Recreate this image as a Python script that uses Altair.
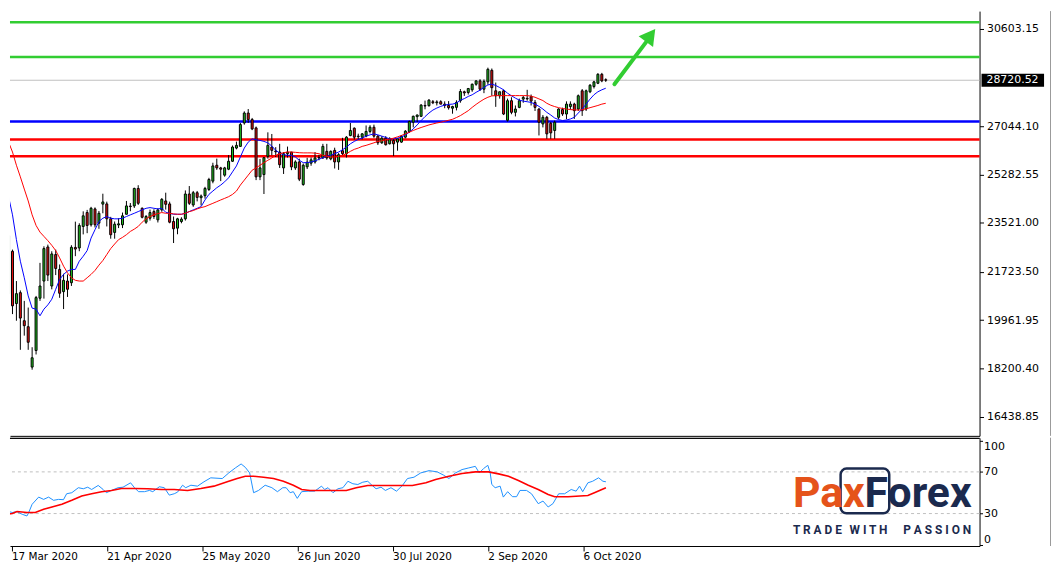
import altair as alt
import pandas as pd

# ---------------- data ----------------
tick_idx = [2, 26, 50, 74, 98, 122, 146]
tick_lbl = ["17 Mar 2020", "21 Apr 2020", "25 May 2020", "26 Jun 2020",
            "30 Jul 2020", "2 Sep 2020", "6 Oct 2020"]

opens = [20933, 22479, 20571, 20969, 19944, 19726, 18252, 18857, 20766, 21392,
         22635, 21211, 22359, 21816, 21005, 21392, 21331, 22620, 22600, 23384,
         23892, 23446, 24025, 23504, 24200, 24207, 23663, 23167, 23440, 23446,
         23830, 24130, 24134, 24772, 24047, 23540, 23685, 23928, 23627, 23989,
         24315, 24207, 23566, 23323, 23566, 23663, 24569, 24170, 24616, 24435,
         24507, 24736, 25039, 25619, 25522, 25257, 25474, 25764, 26246, 26307,
         27162, 27524, 27285, 26981, 25195, 25279, 25945, 26282, 26140, 26100,
         25522, 26040, 26100, 25522, 25740, 24917, 25560, 25695, 25740, 25884,
         25884, 26125, 25850, 26162, 25740, 26150, 26040, 26700, 26971, 26660,
         26644, 26681, 26852, 27006, 26681, 26438, 26608, 26402, 26523, 26463,
         26463, 26644, 26852, 27190, 27393, 27405, 27800, 27792, 27937, 27900,
         27937, 27850, 27800, 27700, 27731, 27974, 28300, 28274, 28372, 28575,
         28698, 28394, 28662, 29083, 28336, 28155, 28336, 27260, 27974, 27550,
         27730, 28032, 28060, 28120, 27912, 27670, 27126, 27368, 27150, 26887,
         27368, 27650, 27488, 27760, 27850, 27670, 28336, 27670, 28300, 28491,
         28611, 28937, 28740]
highs = [23142, 22540, 21392, 21050, 20668, 20425, 18977, 20849, 22056, 22660,
         22722, 22479, 22539, 21997, 21658, 21634, 22700, 23560, 23500, 23936,
         23989, 24100, 24080, 23950, 24580, 24290, 23735, 23566, 23685, 23892,
         24315, 24240, 24800, 24890, 24080, 23800, 24000, 24010, 24050, 24420,
         24617, 24290, 23747, 23700, 23720, 24700, 24860, 24680, 24680, 24550,
         24830, 25160, 25710, 25860, 25560, 25560, 25990, 26340, 26480, 27165,
         27585, 27670, 27345, 27030, 25850, 25920, 26820, 26760, 26280, 26400,
         26100, 26300, 26100, 25800, 25860, 25680, 25890, 25900, 26100, 26000,
         26400, 26400, 26160, 26260, 26060, 26620, 26680, 27160, 27000, 26770,
         26790, 27070, 27080, 27100, 26720, 26680, 26680, 26640, 26580, 26600,
         26720, 26900, 27250, 27430, 27470, 27850, 27978, 28030, 28000, 27990,
         27990, 27950, 27960, 27790, 27990, 28400, 28340, 28440, 28600, 28720,
         28760, 28750, 29180, 29150, 28636, 28300, 28380, 28050, 28100, 27800,
         28050, 28150, 28372, 28200, 28000, 27700, 27450, 27420, 27200, 27250,
         27700, 27720, 27950, 27950, 27900, 28200, 28400, 28380, 28580, 28700,
         28980, 28990, 28790]
lows = [20425, 20186, 19944, 18882, 19400, 18882, 18157, 18712, 20668, 20751,
        21392, 21090, 21610, 20780, 20370, 20812, 21213, 22300, 22480, 23095,
        23140, 23380, 23350, 23300, 23866, 23385, 22938, 22938, 23325, 23325,
        23820, 23940, 24060, 24170, 23680, 23480, 23600, 23660, 23530, 23920,
        24000, 23500, 22780, 23100, 23500, 23600, 24170, 24100, 24300, 24150,
        24400, 24680, 24960, 25450, 25040, 25200, 25440, 25740, 26200, 26300,
        27100, 27162, 26900, 25076, 25076, 24569, 25860, 25980, 25920, 25520,
        25300, 25900, 25440, 25450, 25040, 24870, 25480, 25600, 25680, 25800,
        25850, 25820, 25800, 25500, 25450, 25990, 25900, 26680, 26560, 26560,
        26560, 26640, 26780, 26620, 26360, 26400, 26340, 26380, 25956, 26150,
        26440, 26600, 26800, 27000, 27200, 27380, 27660, 27760, 27850, 27800,
        27840, 27700, 27650, 27500, 27620, 27900, 28150, 28200, 28300, 28520,
        28330, 28250, 28560, 28155, 27750, 28050, 27450, 27213, 27480, 27400,
        27700, 27900, 27974, 27800, 27600, 26706, 27000, 26583, 26583, 26583,
        27300, 27420, 27300, 27650, 27310, 27600, 27420, 27600, 28250, 28420,
        28580, 28650, 28660]
closes = [23047, 20487, 20933, 20041, 19763, 19158, 18592, 20788, 21211, 22577,
          21610, 22381, 21852, 20947, 21417, 21092, 22624, 22560, 23421, 23773,
          23421, 24047, 23446, 23866, 24280, 23663, 23083, 23468, 23480, 23773,
          24134, 24110, 24772, 24230, 23721, 23747, 23892, 23747, 23989, 24374,
          24193, 23540, 23300, 23663, 23650, 24569, 24230, 24616, 24445, 24496,
          24772, 25098, 25594, 25522, 25475, 25522, 25764, 26282, 26344, 27104,
          27524, 27285, 26945, 25195, 25522, 25895, 26344, 26162, 26110, 25638,
          26040, 26100, 25558, 25740, 25112, 25619, 25731, 25815, 25884, 25900,
          26307, 25884, 26125, 25740, 26003, 26040, 26644, 26887, 26644, 26681,
          26764, 26852, 27006, 26681, 26438, 26608, 26366, 26583, 26402, 26583,
          26681, 26862, 27213, 27405, 27452, 27814, 27780, 27995, 27900, 27930,
          27850, 27800, 27720, 27760, 27912, 28310, 28260, 28419, 28575, 28698,
          28394, 28680, 29119, 28450, 28155, 28300, 27488, 27974, 27550, 27670,
          27974, 28093, 28040, 27960, 27731, 27188, 27368, 26764, 26800, 27188,
          27670, 27490, 27850, 27850, 27612, 28155, 27612, 28336, 28539, 28662,
          28937, 28698, 28720.52]

ma_fast = [24471, 23808, 22903, 22117, 21512, 20849, 20404, 20367, 20125, 20367,
           20523, 20728, 21091, 21454, 21635, 21755, 21816, 21816, 22117, 22298,
           22504, 22961, 23265, 23566, 23685, 23747, 23685, 23663, 23663, 23685,
           23747, 23808, 23866, 23928, 23989, 24047, 24073, 24047, 24025, 24047,
           23903, 23866, 23830, 23830, 23830, 23866, 23928, 23989, 24047, 24109,
           24352, 24555, 24677, 24797, 24895, 25014, 25159, 25377, 25594, 25920,
           26246, 26463, 26583, 26547, 26525, 26489, 26438, 26318, 26163, 26065,
           26003, 25981, 25981, 25920, 25800, 25713, 25713, 25739, 25775, 25837,
           25895, 25945, 25981, 26040, 26101, 26184, 26282, 26402, 26489, 26561,
           26608, 26681, 26728, 26764, 26728, 26681, 26633, 26583, 26583, 26608,
           26644, 26728, 26825, 26945, 27090, 27249, 27394, 27524, 27633, 27706,
           27767, 27814, 27840, 27850, 27887, 27995, 28050, 28130, 28190, 28280,
           28360, 28460, 28550, 28580, 28530, 28455, 28372, 28249, 28155, 28068,
           27995, 27959, 27937, 27912, 27850, 27767, 27670, 27550, 27452, 27343,
           27285, 27249, 27271, 27307, 27368, 27524, 27670, 27850, 28032, 28191,
           28300, 28372, 28430]
ma_slow = [26463, 26101, 25619, 25195, 24750, 24315, 23808, 23421, 23178, 23022,
           22866, 22696, 22504, 22236, 21936, 21693, 21512, 21418, 21392, 21392,
           21512, 21635, 21780, 21972, 22142, 22359, 22577, 22744, 22903, 22986,
           23084, 23203, 23287, 23385, 23541, 23663, 23747, 23808, 23855, 23892,
           23866, 23866, 23844, 23830, 23830, 23866, 23928, 23964, 24025, 24073,
           24109, 24170, 24229, 24290, 24352, 24410, 24471, 24554, 24677, 24895,
           25076, 25257, 25438, 25522, 25619, 25713, 25800, 25884, 25981, 26040,
           26076, 26101, 26101, 26090, 26076, 26070, 26070, 26070, 26060, 26040,
           25981, 25945, 25920, 25920, 25945, 25981, 26040, 26126, 26199, 26246,
           26307, 26344, 26391, 26438, 26489, 26510, 26547, 26572, 26608, 26655,
           26706, 26764, 26825, 26887, 26945, 26996, 27043, 27090, 27126, 27162,
           27188, 27224, 27260, 27296, 27360, 27430, 27520, 27610, 27731, 27840,
           27940, 28030, 28100, 28150, 28160, 28160, 28160, 28160, 28160, 28160,
           28160, 28160, 28160, 28140, 28100, 28040, 27980, 27880, 27810, 27760,
           27720, 27690, 27670, 27650, 27640, 27635, 27640, 27680, 27720, 27760,
           27800, 27850, 27880]

rsi_idx = [-0.3, 0.1, 0.7, 1.35, 2.2, 3.4, 4.7, 5.9, 6.35, 7.2, 8.85, 10.1, 11.35,
           12.6, 13.85, 15.1, 15.9, 17.2, 18.85, 20.1, 21.2, 22.2, 23.85, 25.1, 25.9,
           27.2, 28.85, 30.1, 32.0, 33.0, 34.0, 35.5, 36.75, 37.6, 39.25, 40.5, 41.75,
           43.0, 43.85, 45.1, 45.9, 47.2, 48.85, 50.5, 52.2, 55.1, 56.75, 58.4, 59.85,
           60.9, 62.0, 63.0, 64.25, 65.9, 67.6, 69.0, 70.35, 71.2, 72.2, 73.0, 74.0,
           75.1, 76.75, 78.4, 80.1, 80.9, 81.75, 83.0, 84.25, 85.5, 86.75, 88.0, 89.25,
           90.5, 91.75, 92.6, 93.85, 95.1, 96.2, 97.6, 99.0, 100.5, 101.75, 103.4,
           105.1, 107.2, 109.25, 110.9, 112.2, 113.85, 115.5, 117.2, 118.85, 119.85,
           120.9, 122.0, 122.6, 123.0, 123.85, 125.1, 125.9, 127.0, 128.2, 129.25,
           130.1, 131.75, 133.0, 134.7, 135.9, 137.2, 138.4, 139.85, 141.35, 143.0,
           144.25, 145.1, 145.9, 147.2, 148.4, 149.9, 151.0, 151.75]
rsi_val = [34.1, 35.7, 30.0, 31.9, 31.0, 31.9, 29.3, 27.7, 31.0, 38.9, 45.8, 43.6,
           45.8, 42.7, 43.6, 43.3, 49.0, 50.0, 54.8, 53.8, 55.3, 53.1, 57.0, 53.1,
           50.0, 52.2, 54.8, 55.3, 59.5, 54.8, 51.0, 51.0, 52.2, 51.0, 55.7, 54.8,
           47.7, 49.0, 50.6, 57.2, 54.8, 57.2, 56.3, 60.5, 64.3, 63.6, 69.0, 73.8,
           77.6, 74.4, 69.0, 50.0, 52.2, 57.2, 54.8, 51.0, 54.8, 54.8, 50.0, 51.0,
           44.6, 51.0, 51.5, 51.5, 56.3, 53.1, 54.8, 50.0, 53.8, 54.8, 61.0, 58.6,
           57.9, 60.1, 61.0, 57.9, 53.8, 55.3, 52.2, 54.8, 51.5, 57.0, 63.6, 64.9,
           69.0, 71.2, 70.0, 66.8, 63.6, 69.0, 72.2, 73.8, 75.3, 69.0, 73.1, 76.3,
           69.0, 57.9, 54.8, 56.3, 45.8, 51.0, 46.2, 46.2, 52.2, 52.2, 49.0, 39.5,
           42.0, 36.3, 39.5, 49.0, 49.0, 53.1, 51.5, 56.3, 51.0, 59.5, 61.0, 64.3,
           61.0, 60.5]
sig_idx = [-0.3, 2.2, 3.4, 5.9, 8.0, 10.1, 12.2, 14.7, 17.2, 19.7, 22.2, 24.7, 27.2,
           29.7, 33.0, 36.35, 39.7, 43.0, 46.35, 49.7, 53.0, 56.35, 58.85, 60.9, 63.0,
           65.5, 68.0, 70.5, 73.0, 75.1, 77.2, 86.35, 88.85, 91.75, 103.0, 106.4,
           108.85, 112.2, 115.5, 118.85, 122.2, 124.7, 127.2, 129.7, 132.2, 134.7,
           137.2, 138.85, 142.2, 147.2, 148.85, 151.75]
sig_val = [28.7, 30.0, 31.9, 31.0, 31.0, 34.1, 36.3, 38.9, 42.7, 46.8, 49.0, 51.0,
           52.2, 54.1, 54.1, 53.8, 53.1, 53.1, 52.2, 54.1, 56.3, 60.5, 63.6, 65.8,
           65.8, 64.9, 63.6, 61.0, 57.2, 53.1, 52.2, 52.2, 54.8, 57.0, 57.0, 59.5,
           62.7, 65.8, 68.4, 70.0, 70.0, 68.1, 65.8, 61.7, 57.2, 53.1, 48.3, 46.2,
           46.2, 47.4, 50.0, 54.8]

level_vals = [30835, 29567, 27213, 26561, 25945]
level_cols = ["#32cd32", "#32cd32", "#0000ff", "#ff0000", "#ff0000"]
last_price = 28720.52
price_ticks = [30603.15, 27044.10, 25282.55, 23521.00, 21723.50, 19961.95, 18200.40, 16438.85]
rsi_ticks = [0, 30, 70, 100]
rsi_levels = [70, 30]
arrow_idx = [154.2, 162.6]
arrow_price = [28575, 30176]
arrow_head_idx = [163.4]
arrow_head_price = [30360]
slogan_words = ["T R A D E", "W I T H", "P A S S I O N"]

# ---------------- layout ----------------
W = 977
H1 = 428
H2 = 109
FONT = "DejaVu Sans"
GREEN = "#20c020"
RED = "#e81010"
NAVY = "#1b2a4e"
ORANGE = "#e5531a"

xs = alt.Scale(domain=[1.625, 245.875], nice=False, zero=False)
ys = alt.Scale(domain=[15742.08, 31244.24], nice=False, zero=False)
rs = alt.Scale(domain=[-1.143, 102.667], nice=False, zero=False)

XA_TOP = alt.Axis(labels=False, ticks=False, title=None, grid=False, domain=True)
YA_TOP = alt.Axis(orient="right", values=price_ticks, format=".2f", title=None, grid=False,
                  tickSize=4, labelPadding=3, labelFontSize=11, labelFont=FONT,
                  labelBaseline="middle", labelFlush=False, labelOverlap=False)

lbl_expr = ("[" + ",".join("'" + s + "'" for s in tick_lbl) + "][indexof(["
            + ",".join(str(v) for v in tick_idx) + "], datum.value)]")
XA_BOT = alt.Axis(values=tick_idx, labelExpr=lbl_expr, labelAlign="left", labelBaseline="top",
                  labelPadding=1, tickSize=5, labelFlush=False, labelOverlap=False, title=None,
                  grid=False, labelFontSize=10.5, labelFont=FONT, labelOffset=0)
YA_BOT = alt.Axis(orient="right", values=rsi_ticks, title=None, grid=False, tickSize=3,
                  labelPadding=1, labelFontSize=11, labelFont=FONT, labelFlush=6,
                  labelOverlap=False)

candles = pd.DataFrame({"idx": list(range(len(closes))), "o": opens, "h": highs,
                        "l": lows, "c": closes})
ma = pd.DataFrame({"idx": list(range(len(ma_fast))), "fast": ma_fast, "slow": ma_slow})
levels = pd.DataFrame({"v": level_vals, "col": level_cols})
last_df = pd.DataFrame({"v": [last_price], "t": [f"{last_price:.2f}"]})
arrow_df = pd.DataFrame({"idx": arrow_idx, "v": arrow_price})
head_df = pd.DataFrame({"idx": arrow_head_idx, "v": arrow_head_price})

base = alt.Chart(candles)

lvl = alt.Chart(levels).mark_rule(strokeWidth=2.6).encode(
    y=alt.Y("v:Q", scale=ys, axis=YA_TOP),
    color=alt.Color("col:N", scale=None))
lastline = alt.Chart(last_df).mark_rule(color="#c0c0c0", strokeWidth=1).encode(
    y=alt.Y("v:Q", scale=ys, axis=YA_TOP))
wick = base.mark_rule(color="black", strokeWidth=1, clip=True).encode(
    x=alt.X("idx:Q", scale=xs, axis=XA_TOP),
    y=alt.Y("l:Q", scale=ys, axis=YA_TOP), y2="h:Q")
body = base.mark_bar(width=2, stroke="black", strokeWidth=1, clip=True).encode(
    x=alt.X("idx:Q", scale=xs, axis=XA_TOP),
    y=alt.Y("o:Q", scale=ys, axis=YA_TOP), y2="c:Q",
    fill=alt.condition("datum.c >= datum.o", alt.value(GREEN), alt.value(RED)))
fast = alt.Chart(ma).mark_line(color="#0000ff", strokeWidth=1, clip=True).encode(
    x=alt.X("idx:Q", scale=xs, axis=XA_TOP), y=alt.Y("fast:Q", scale=ys, axis=YA_TOP))
slow = alt.Chart(ma).mark_line(color="#ff0000", strokeWidth=1, clip=True).encode(
    x=alt.X("idx:Q", scale=xs, axis=XA_TOP), y=alt.Y("slow:Q", scale=ys, axis=YA_TOP))
shaft = alt.Chart(arrow_df).mark_line(color="#32cd32", strokeWidth=4, strokeCap="round").encode(
    x=alt.X("idx:Q", scale=xs, axis=XA_TOP), y=alt.Y("v:Q", scale=ys, axis=YA_TOP))
head = alt.Chart(head_df).mark_point(shape="triangle-up", filled=True, size=330, angle=37,
                                     color="#32cd32", opacity=1).encode(
    x=alt.X("idx:Q", scale=xs, axis=XA_TOP), y=alt.Y("v:Q", scale=ys, axis=YA_TOP))
box = alt.Chart(last_df).mark_rule(color="black", strokeWidth=13).encode(
    x=alt.value(W + 2), x2=alt.value(W + 65), y=alt.Y("v:Q", scale=ys, axis=YA_TOP))
boxtxt = alt.Chart(last_df).mark_text(color="white", align="left", baseline="middle",
                                      fontSize=11, font=FONT).encode(
    x=alt.value(W + 7), y=alt.Y("v:Q", scale=ys, axis=YA_TOP), text="t:N")
edge1 = alt.Chart(last_df).mark_rule(color="#9a9a9a", strokeWidth=1).encode(
    x=alt.value(1048.5), y=alt.value(0), y2=alt.value(H1))

top = alt.layer(lvl, lastline, wick, body, fast, slow, shaft, head, box, boxtxt, edge1).properties(
    width=W, height=H1)

# ---------------- RSI panel ----------------
rsi_df = pd.DataFrame({"idx": rsi_idx, "v": rsi_val})
sig_df = pd.DataFrame({"idx": sig_idx, "v": sig_val})
rl_df = pd.DataFrame({"v": rsi_levels})

rl = alt.Chart(rl_df).mark_rule(color="#c0c0c0", strokeWidth=1, strokeDash=[3, 3]).encode(
    y=alt.Y("v:Q", scale=rs, axis=YA_BOT))
rsi_line = alt.Chart(rsi_df).mark_line(color="#1e90ff", strokeWidth=1, clip=True).encode(
    x=alt.X("idx:Q", scale=xs, axis=XA_BOT), y=alt.Y("v:Q", scale=rs, axis=YA_BOT))
sig_line = alt.Chart(sig_df).mark_line(color="#ff0000", strokeWidth=1.6, clip=True).encode(
    x=alt.X("idx:Q", scale=xs, axis=XA_BOT), y=alt.Y("v:Q", scale=rs, axis=YA_BOT))
border = alt.Chart(rl_df).mark_rule(color="black", strokeWidth=1).encode(
    x=alt.value(0), x2=alt.value(W), y=alt.value(0.5))
edge2 = alt.Chart(rl_df).mark_rule(color="#9a9a9a", strokeWidth=1).encode(
    x=alt.value(1048.5), y=alt.value(0), y2=alt.value(H2))

one = rl_df.head(1)
logo_box = alt.Chart(one).mark_rect(fill="white", fillOpacity=0, stroke=NAVY,
                                    strokeWidth=2.5, cornerRadius=6).encode(
    x=alt.value(837), x2=alt.value(886), y=alt.value(31), y2=alt.value(76))
pax = alt.Chart(one).mark_text(text="Pax", font="Roboto", fontWeight="bold",
                               fontSize=43, color=ORANGE, align="left",
                               baseline="alphabetic").encode(
    x=alt.value(789), y=alt.value(70))
forex = alt.Chart(one).mark_text(text="Forex", font="Roboto", fontWeight="bold",
                                 fontSize=43, color=NAVY, align="right",
                                 baseline="alphabetic").encode(
    x=alt.value(969), y=alt.value(70))
slogan_layers = []
for word, xpos in zip(slogan_words, [789, 846, 900]):
    slogan_layers.append(
        alt.Chart(one).mark_text(text=word, font="Roboto", fontWeight="bold", fontSize=12,
                                 color=NAVY, align="left", baseline="alphabetic").encode(
            x=alt.value(xpos), y=alt.value(96.5)))

bottom = alt.layer(rl, rsi_line, sig_line, border, edge2, logo_box, pax, forex,
                   *slogan_layers).properties(width=W, height=H2)

chart = alt.vconcat(top, bottom, spacing=2, bounds="flush").properties(
    padding=0, background="white"
).configure_view(strokeWidth=0).configure_axis(
    domainColor="black", tickColor="black", labelColor="black", domainWidth=1, tickWidth=1
)

chart.save("out.html", embed_options={"renderer": "svg", "actions": False})
